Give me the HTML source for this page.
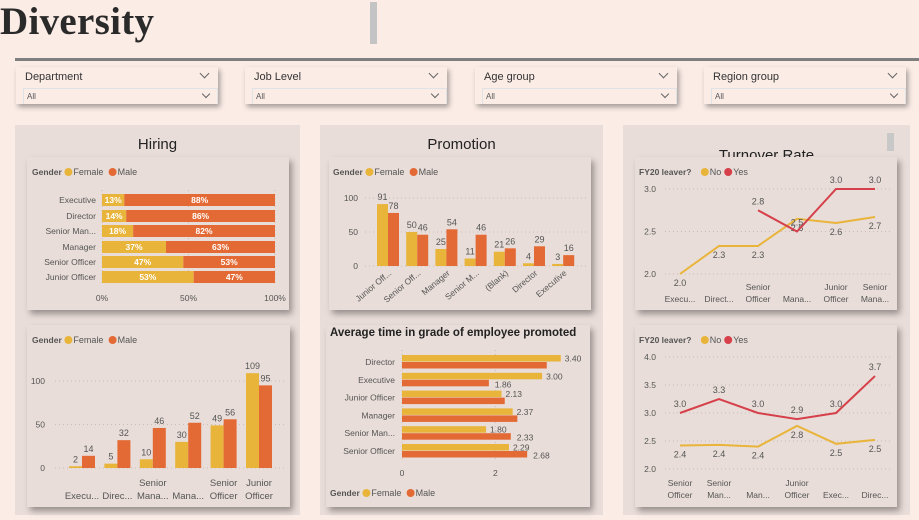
<!DOCTYPE html>
<html><head><meta charset="utf-8">
<style>
*{margin:0;padding:0;box-sizing:border-box}
body{width:919px;height:520px;overflow:hidden;background:#fbece6;font-family:"Liberation Sans",sans-serif;position:relative}
.abs{position:absolute}
.slicer{position:absolute;top:67px;width:202px;height:37px;background:#fbece6;box-shadow:2px 3px 5px rgba(0,0,0,.35)}
.slicer .t{position:absolute;left:9px;top:4px;font-size:11px;color:#333}
.slicer .box{position:absolute;left:7px;top:21px;width:195px;height:16px;border:1px solid #dfe3e6;border-bottom:none}
.slicer .box span{position:absolute;left:3px;top:3px;font-size:8px;color:#555}
.chev{position:absolute;width:7px;height:7px;border-right:1px solid #666;border-bottom:1px solid #666;transform:rotate(45deg)}
.panel{position:absolute;top:125px;height:390px;background:#e9ddd9}
.ptitle{position:absolute;top:136px;font-size:15px;color:#222;text-align:center}
.card{position:absolute;background:#e8ddd8;box-shadow:3px 4px 6px rgba(0,0,0,.35)}
svg text{font-family:"Liberation Sans",sans-serif}
</style></head><body>
<div class="abs" style="left:0;top:0;font-family:'Liberation Serif',serif;font-size:39px;font-weight:bold;color:#2a2a2a;line-height:44px;letter-spacing:0.3px">Diversity</div>
<div class="abs" style="left:370px;top:2px;width:7px;height:42px;background:#c4c4c4"></div>
<div class="abs" style="left:15px;top:58px;width:904px;height:3px;background:#7f7f7f"></div>

<div class="slicer" style="left:16px"><div class="t">Department</div><div class="chev" style="right:10px;top:3px"></div><div class="box"><span>All</span><div class="chev" style="right:8px;top:2px;width:6px;height:6px"></div></div></div>
<div class="slicer" style="left:245px"><div class="t">Job Level</div><div class="chev" style="right:10px;top:3px"></div><div class="box"><span>All</span><div class="chev" style="right:8px;top:2px;width:6px;height:6px"></div></div></div>
<div class="slicer" style="left:475px"><div class="t">Age group</div><div class="chev" style="right:10px;top:3px"></div><div class="box"><span>All</span><div class="chev" style="right:8px;top:2px;width:6px;height:6px"></div></div></div>
<div class="slicer" style="left:704px"><div class="t">Region group</div><div class="chev" style="right:10px;top:3px"></div><div class="box"><span>All</span><div class="chev" style="right:8px;top:2px;width:6px;height:6px"></div></div></div>

<div class="panel" style="left:15px;width:285px"></div>
<div class="panel" style="left:320px;width:283px"></div>
<div class="panel" style="left:623px;width:287px"></div>
<div class="ptitle" style="left:15px;width:285px">Hiring</div>
<div class="ptitle" style="left:320px;width:283px">Promotion</div>
<div class="ptitle" style="left:623px;width:287px;top:147px">Turnover Rate</div>
<div class="abs" style="left:887px;top:133px;width:7px;height:18px;background:#c8c8c8"></div>

<div class="card" style="left:27px;top:157px;width:262px;height:153px"></div>
<div class="card" style="left:27px;top:325px;width:263px;height:182px"></div>
<div class="card" style="left:329px;top:157px;width:262px;height:153px"></div>
<div class="card" style="left:326px;top:325px;width:264px;height:182px"></div>
<div class="card" style="left:635px;top:157px;width:262px;height:153px"></div>
<div class="card" style="left:635px;top:325px;width:262px;height:182px"></div>

<svg id="s" class="abs" style="left:0;top:0" width="919" height="520"></svg>

<script>
// Hiring share (%)
const hsCats=["Executive","Director","Senior Man...","Manager","Senior Officer","Junior Officer"];
const hsFemale=[13,14,18,37,47,53];
const hsMale=[88,86,82,63,53,47];
// Hiring counts
const hcCats=[["Execu..."],["Direc..."],["Senior","Mana..."],["Mana..."],["Senior","Officer"],["Junior","Officer"]];
const hcFemale=[2,5,10,30,49,109];
const hcMale=[14,32,46,52,56,95];
// Promotion counts
const pcCats=["Junior Off...","Senior Off...","Manager","Senior M...","(Blank)","Director","Executive"];
const pcFemale=[91,50,25,11,21,4,3];
const pcMale=[78,46,54,46,26,29,16];
// Average time in grade
const atCats=["Director","Executive","Junior Officer","Manager","Senior Man...","Senior Officer"];
const atFemale=[3.40,3.00,2.13,2.37,1.80,2.29];
const atMaleVals=[3.1,1.86,2.2,2.47,2.33,2.68];
const atMaleLbl=["","1.86","","","2.33","2.68"];
const atFemaleLbl=["3.40","3.00","2.13","2.37","1.80","2.29"];
// Turnover 1
const t1Cats=[["Execu..."],["Direct..."],["Senior","Officer"],["Mana..."],["Junior","Officer"],["Senior","Mana..."]];
const t1No=[2.0,2.33,2.33,2.65,2.6,2.67];
const t1Yes=[null,null,2.75,2.5,3.0,3.0];
// Turnover 2
const t2Cats=[["Senior","Officer"],["Senior","Man..."],["Man..."],["Junior","Officer"],["Exec..."],["Direc..."]];
const t2No=[2.42,2.43,2.4,2.77,2.45,2.52];
const t2Yes=[3.0,3.25,3.0,2.89,3.0,3.66];

const F="#e9b43a",M="#e46a35",Y="#d6404a",TX="#555";
const svg=document.getElementById('s');
function el(tag,a,txt){const e=document.createElementNS('http://www.w3.org/2000/svg',tag);for(const k in a)e.setAttribute(k,a[k]);if(txt!==undefined)e.textContent=txt;svg.appendChild(e);return e;}
function tx(x,y,s,o){o=o||{};const e=el('text',Object.assign({x:x,y:y,'font-size':o.fs||8.5,fill:o.fill||TX,'text-anchor':o.a||'middle'},o.extra||{}),s);return e;}
function grid(x1,x2,y){const e=el('line',{x1:x1,x2:x2,y1:y,y2:y,stroke:'#c9bdb8','stroke-dasharray':'1,3'});}
function legend(x,y,title,labels,cols){let t=tx(x,y+3,title,{a:'start',fs:8.5,extra:{'font-weight':'bold'}});let cx=x+title.length*4.9+7;labels.forEach((l,i)=>{const c=el('circle',{cx:cx,cy:y,r:4,fill:cols[i]});const tt=tx(cx+5,y+3,l,{a:'start',fs:9});cx+=5+l.length*5.2+8;});}

// --- Hiring share
legend(32,172,"Gender",["Female","Male"],[F,M]);
(function(){const x0=102,x1=275,sx=v=>x0+(x1-x0)*v/100;const rows=[200,216,231,247,262,277];
[0,50,100].forEach(t=>{const g=el('line',{x1:sx(t),x2:sx(t),y1:190,y2:285,stroke:'#c9bdb8','stroke-dasharray':'1,3'});const l=tx(sx(t),301,t+"%");});
hsCats.forEach((c,i)=>{const y=rows[i];const l=tx(96,y+3,c,{a:'end'});
const tot=hsFemale[i]+hsMale[i];const fw=hsFemale[i]/tot*100;
const b1=el('rect',{x:sx(0),y:y-6,width:sx(fw)-sx(0),height:12,fill:F});
const b2=el('rect',{x:sx(fw),y:y-6,width:sx(100)-sx(fw),height:12,fill:M});
tx((sx(0)+sx(fw))/2,y+3,hsFemale[i]+"%",{fill:'#fff',extra:{'font-weight':'bold'}});
tx((sx(fw)+sx(100))/2,y+3,hsMale[i]+"%",{fill:'#fff',extra:{'font-weight':'bold'}});});})();

// --- Hiring counts
legend(32,340,"Gender",["Female","Male"],[F,M]);
(function(){const sy=v=>468-v*0.87;[0,50,100].forEach(t=>{grid(55,287,sy(t));const l=tx(45,sy(t)+3,t,{a:'end'});});
hcCats.forEach((c,i)=>{const cx=82+i*35.4;const w=13;
const b1=el('rect',{x:cx-w,y:sy(hcFemale[i]),width:w,height:sy(0)-sy(hcFemale[i]),fill:F});
const b2=el('rect',{x:cx,y:sy(hcMale[i]),width:w,height:sy(0)-sy(hcMale[i]),fill:M});
tx(cx-w/2,sy(hcFemale[i])-4,hcFemale[i],{fs:9});tx(cx+w/2,sy(hcMale[i])-4,hcMale[i],{fs:9});
c.forEach((s,j)=>{const l=tx(cx,499-(c.length-1-j)*13,s,{fs:9.5});});});})();

// --- Promotion counts
legend(333,172,"Gender",["Female","Male"],[F,M]);
(function(){const sy=v=>266-v*0.68;[0,50,100].forEach(t=>{grid(365,588,sy(t));const l=tx(358,sy(t)+3,t,{a:'end'});});
pcCats.forEach((c,i)=>{const cx=388+i*29.2;const w=11;
const b1=el('rect',{x:cx-w,y:sy(pcFemale[i]),width:w,height:sy(0)-sy(pcFemale[i]),fill:F});
const b2=el('rect',{x:cx,y:sy(pcMale[i]),width:w,height:sy(0)-sy(pcMale[i]),fill:M});
tx(cx-w/2,sy(pcFemale[i])-4,pcFemale[i],{fs:9});tx(cx+w/2,sy(pcMale[i])-4,pcMale[i],{fs:9});
const l=tx(cx+4,274,c,{a:'end',extra:{transform:`rotate(-40 ${cx+4} 274)`}});});})();

// --- Avg time
(function(){const t=tx(330,336,"Average time in grade of employee promoted",{a:'start',fs:11.5,fill:'#222',extra:{'font-weight':'bold'}});
const sx=v=>402+v*46.7;[0,2].forEach(v=>{const g=el('line',{x1:sx(v),x2:sx(v),y1:350,y2:460,stroke:'#c9bdb8','stroke-dasharray':'1,3'});const l=tx(sx(v),476,v);});
atCats.forEach((c,i)=>{const y=362+i*17.8;const l=tx(395,y+3,c,{a:'end'});
const b1=el('rect',{x:sx(0),y:y-7,width:sx(atFemale[i])-sx(0),height:6.5,fill:F});
const b2=el('rect',{x:sx(0),y:y,width:sx(atMaleVals[i])-sx(0),height:6.5,fill:M});
tx(sx(atFemale[i])+4,y-0.5,atFemaleLbl[i],{a:'start'});if(atMaleLbl[i])tx(sx(atMaleVals[i])+6,y+7.5,atMaleLbl[i],{a:'start'});});
legend(330,493,"Gender",["Female","Male"],[F,M]);})();

// --- Turnover lines
function lineChart(top,cats,no,yes,ticks,sy,lbY){legend(639,top,"FY20 leaver?",["No","Yes"],[F,Y]);
ticks.forEach(t=>{grid(665,892,sy(t));const l=tx(656,sy(t)+3,t.toFixed(1),{a:'end'});});
const xs=i=>680+i*39;
[[no,F,'line-no',9],[yes,Y,'line-yes',-6]].forEach(([d,col,nm,off])=>{let p='';d.forEach((v,i)=>{if(v===null)return;p+=(p?'L':'M')+xs(i)+','+sy(v);});const e=el('path',{d:p,fill:'none',stroke:col,'stroke-width':2});
d.forEach((v,i)=>{if(v!==null)tx(xs(i),sy(v)+off+(off>0?3:0),v.toFixed(1),{fs:9});});});
cats.forEach((c,i)=>c.forEach((s,j)=>{const l=tx(xs(i),lbY-(c.length-1-j)*12,s);}));}
lineChart(172,t1Cats,t1No,t1Yes,[2.0,2.5,3.0],v=>274-(v-2)*85,302);
lineChart(340,t2Cats,t2No,t2Yes,[2.0,2.5,3.0,3.5,4.0],v=>469-(v-2)*56,498);
</script>
</body></html>
